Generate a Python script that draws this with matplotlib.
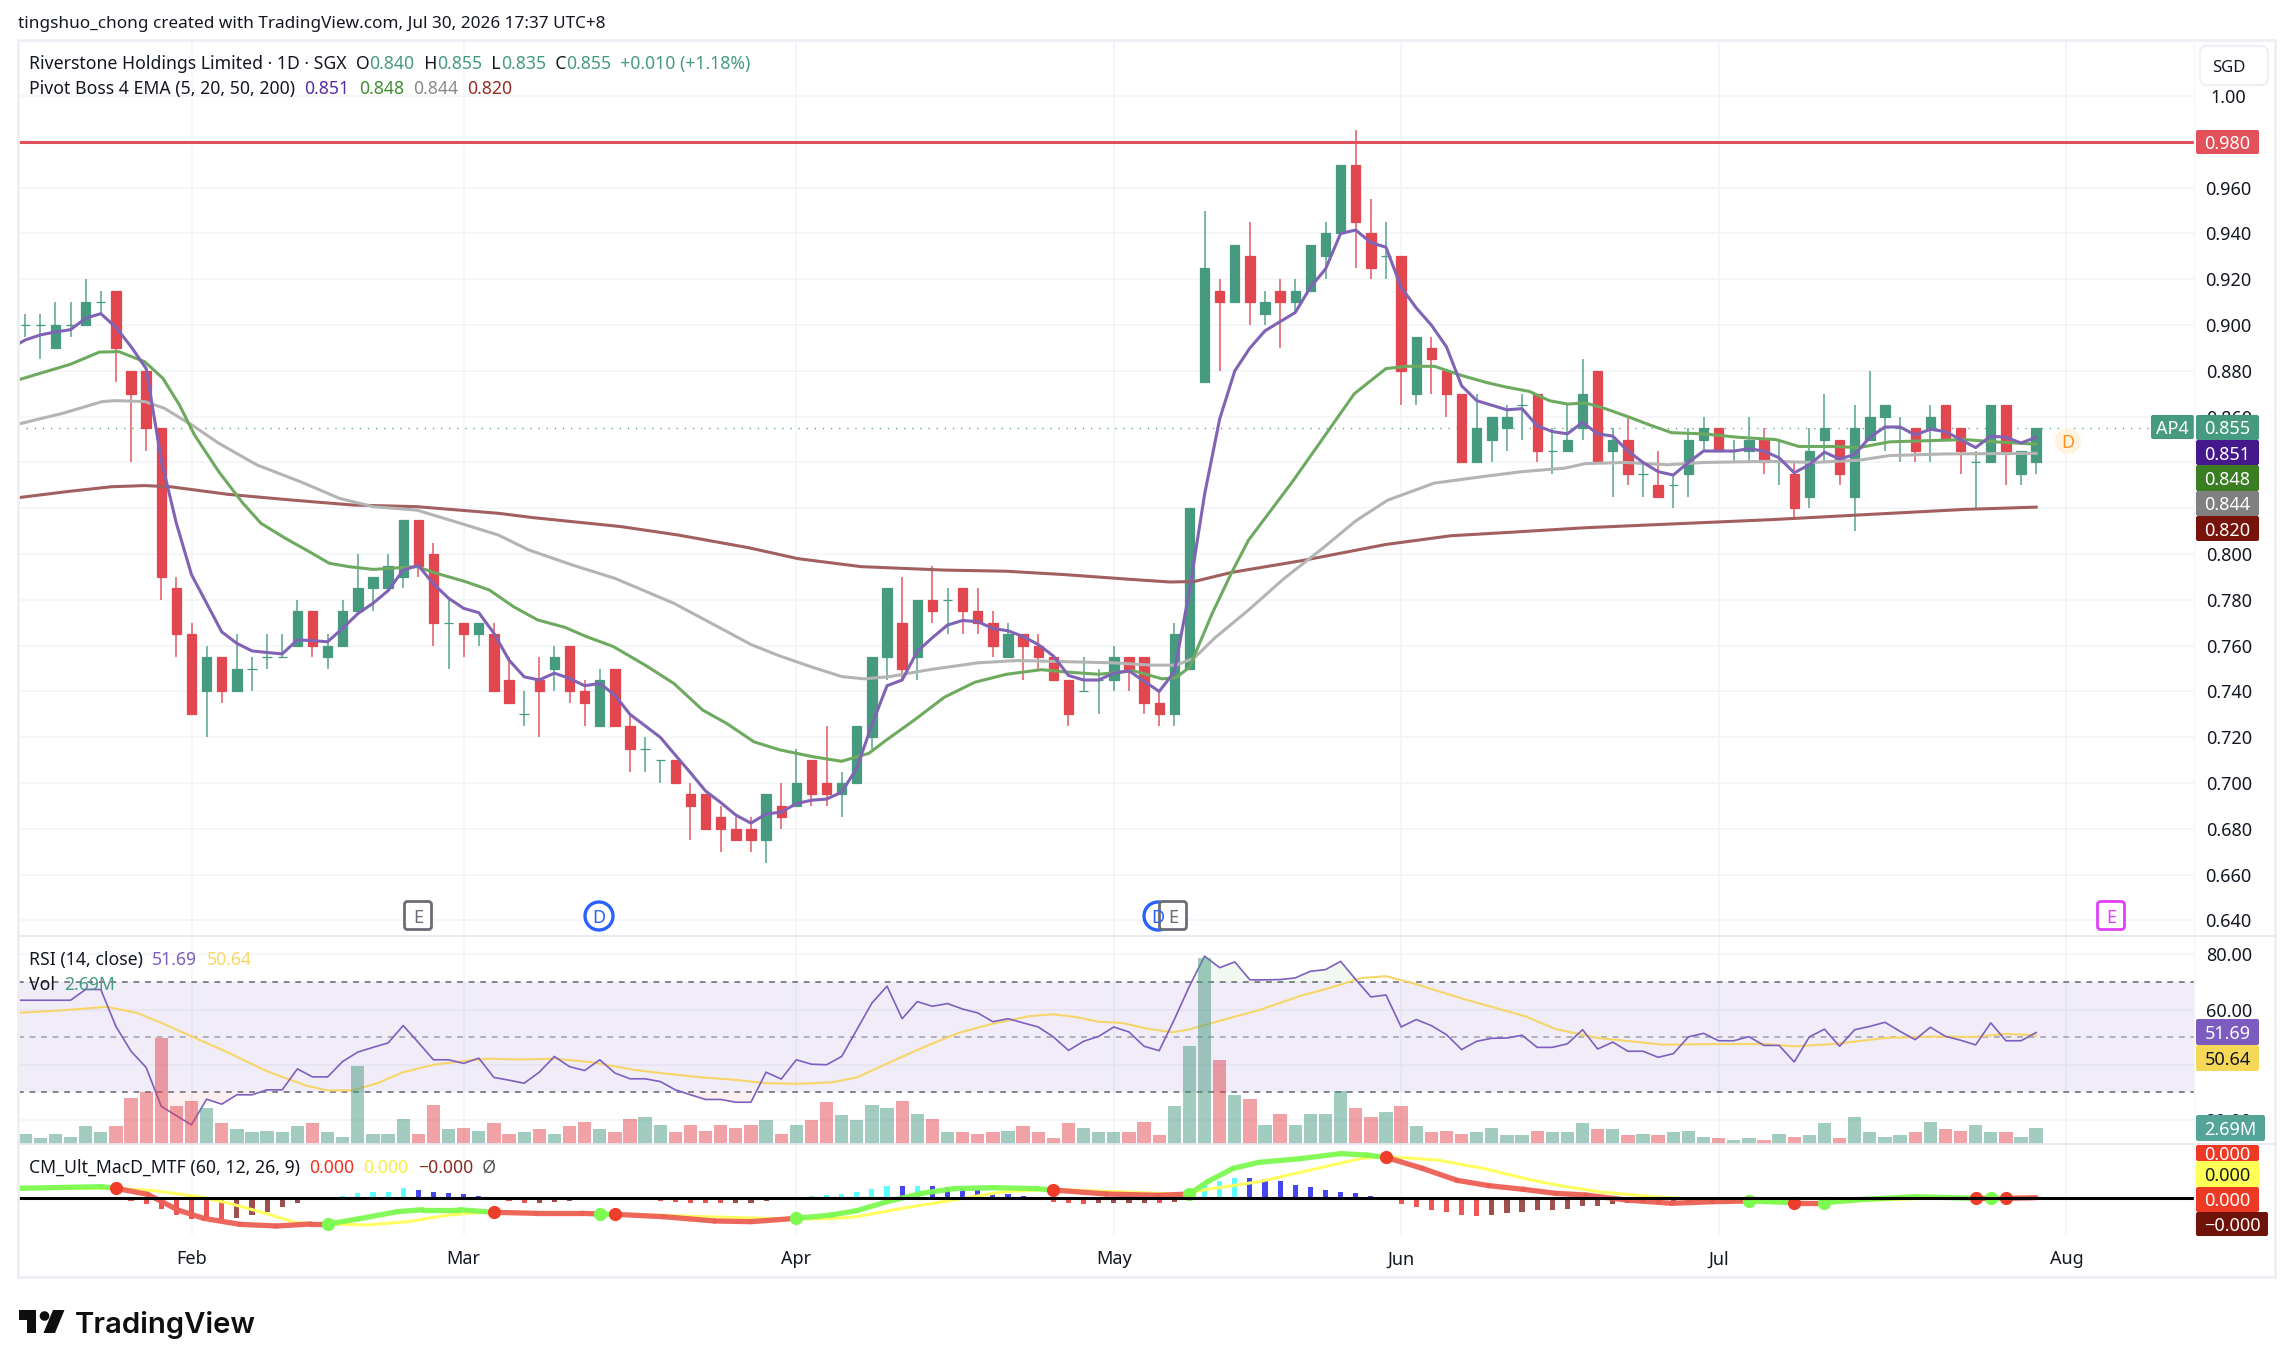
import numpy as np
import matplotlib
matplotlib.use("Agg")
import matplotlib.pyplot as plt
from matplotlib.patches import Rectangle, FancyBboxPatch, Circle, Polygon

# ---------- data ----------
OPEN = [.90,.90,.89,.90,.90,.91,.915,.88,.88,.855,.785,.765,.74,.755,.74,.75,.755,.755,.76,.775,
 .755,.76,.775,.785,.785,.79,.815,.80,.77,.77,.765,.765,.745,.73,.745,.75,.76,.74,.725,.75,
 .725,.715,.71,.71,.695,.695,.685,.68,.68,.675,.69,.69,.71,.70,.695,.70,.72,.755,.77,.755,
 .78,.78,.785,.775,.77,.755,.765,.76,.755,.745,.74,.745,.745,.755,.755,.735,.73,.75,.875,.915,
 .91,.93,.905,.915,.91,.915,.93,.94,.97,.94,.93,.93,.87,.89,.88,.87,.84,.85,.855,.865,
 .87,.845,.845,.855,.88,.845,.85,.835,.83,.83,.835,.85,.855,.845,.845,.85,.84,.835,.825,.85,
 .85,.825,.85,.86,.855,.855,.855,.865,.855,.84,.84,.865,.835,.84]
HIGH = [.905,.905,.91,.91,.92,.915,.915,.88,.88,.855,.79,.77,.76,.755,.765,.755,.765,.765,.78,.775,
 .765,.78,.80,.79,.80,.815,.815,.805,.78,.77,.77,.77,.755,.74,.755,.76,.76,.745,.75,.75,
 .73,.72,.71,.71,.70,.695,.69,.685,.685,.695,.70,.715,.71,.725,.705,.725,.755,.785,.79,.78,
 .795,.785,.785,.785,.775,.77,.765,.765,.755,.745,.755,.75,.76,.755,.755,.74,.77,.82,.95,.92,
 .935,.945,.915,.92,.92,.935,.945,.97,.985,.955,.945,.93,.895,.895,.88,.87,.87,.86,.865,.87,
 .87,.855,.865,.885,.88,.855,.86,.84,.845,.835,.855,.86,.855,.85,.86,.855,.85,.84,.855,.87,
 .85,.865,.88,.865,.86,.855,.865,.865,.855,.845,.865,.865,.845,.855]
LOW = [.895,.885,.89,.895,.90,.905,.875,.84,.845,.78,.755,.73,.72,.735,.74,.74,.75,.755,.76,.755,
 .75,.76,.775,.775,.785,.785,.79,.76,.75,.755,.76,.74,.735,.725,.72,.74,.735,.725,.725,.725,
 .705,.705,.70,.70,.675,.68,.67,.675,.67,.665,.68,.69,.69,.69,.685,.70,.715,.745,.745,.745,
 .77,.765,.765,.765,.755,.755,.745,.75,.745,.725,.74,.73,.74,.74,.73,.725,.725,.75,.875,.88,
 .91,.90,.90,.89,.905,.915,.92,.94,.925,.92,.92,.865,.865,.87,.86,.84,.84,.84,.845,.85,
 .84,.835,.845,.85,.84,.825,.83,.825,.825,.82,.825,.845,.845,.84,.84,.835,.83,.815,.82,.84,
 .83,.81,.85,.845,.84,.84,.84,.85,.835,.82,.84,.83,.83,.835]
CLOSE = [.90,.90,.90,.90,.91,.91,.89,.87,.855,.79,.765,.73,.755,.74,.75,.75,.755,.755,.775,.76,
 .76,.775,.785,.79,.795,.815,.795,.77,.77,.765,.77,.74,.735,.73,.74,.755,.74,.735,.745,.725,
 .715,.715,.71,.70,.69,.68,.68,.675,.675,.695,.685,.70,.695,.695,.70,.725,.755,.785,.75,.78,
 .775,.78,.775,.77,.76,.765,.76,.755,.745,.73,.74,.745,.755,.75,.735,.73,.765,.82,.925,.91,
 .935,.91,.91,.91,.915,.935,.94,.97,.945,.925,.93,.88,.895,.885,.87,.84,.855,.86,.86,.865,
 .845,.845,.85,.87,.84,.85,.835,.835,.825,.83,.85,.855,.845,.845,.85,.84,.84,.82,.845,.855,
 .835,.855,.86,.865,.855,.845,.86,.85,.845,.84,.865,.845,.845,.855]
VOLUME = [1.7,1.0,1.7,1.2,3.0,2.0,3.0,7.6,8.5,17.5,6.2,7.1,5.9,3.5,2.5,2.0,2.2,2.0,3.0,3.5,
 2.0,1.2,12.8,1.7,1.7,4.2,1.7,6.4,2.5,2.7,2.2,3.5,1.7,2.0,2.5,1.7,3.0,3.7,2.5,2.0,
 4.2,4.4,3.2,2.0,3.2,2.2,3.2,2.7,3.2,4.0,1.7,3.2,4.0,6.9,4.7,4.0,6.4,5.9,7.1,4.9,
 4.2,2.0,2.0,1.7,2.0,2.2,3.0,2.0,1.0,3.5,2.7,2.0,2.0,2.0,3.7,1.5,6.2,16.2,30.7,13.8,
 8.1,7.4,3.2,4.9,3.2,4.9,4.9,8.8,5.9,4.4,5.2,6.2,3.0,2.0,2.2,1.7,2.0,2.7,1.5,1.5,
 2.2,2.0,2.0,3.5,2.5,2.5,1.5,1.7,1.5,2.0,2.2,1.2,1.0,0.7,1.0,0.7,1.7,1.2,1.5,3.5,
 1.0,4.4,2.0,1.2,1.5,2.0,3.7,2.5,2.2,3.2,2.0,2.0,1.2,2.69]
EMA5 = [.8935,.8957,.897,.898,.903,.905,.899,.8906,.881,.841,.8134,.791,.7785,.766,.761,.7577,.757,.7564,.7625,.7622,
 .7617,.7676,.774,.7785,.784,.793,.795,.787,.7807,.7763,.7744,.7654,.7537,.7464,.745,.748,.7457,.7425,.7435,.7384,
 .73,.725,.72,.7122,.7045,.6965,.6915,.686,.6825,.6865,.6873,.691,.6925,.693,.696,.7065,.7255,.7425,.745,.7575,
 .7635,.769,.771,.7705,.7675,.7665,.764,.7605,.7555,.747,.745,.745,.748,.749,.7445,.74,.7485,.784,.826,.859,
 .88,.89,.8975,.9015,.9055,.9165,.9245,.94,.9415,.936,.934,.9165,.9075,.90,.8905,.8735,.867,.865,.863,.8635,
 .856,.8535,.8525,.8575,.8525,.8515,.845,.84,.836,.8345,.84,.845,.845,.845,.846,.845,.842,.8355,.839,.8445,
 .8415,.8435,.851,.8555,.8555,.852,.8545,.8535,.85,.8465,.8515,.851,.8485,.851]
EMA5_START = .8916
EMA20_X = [-.5,3,4.9,6.2,7.9,9.1,10.2,11.2,12.8,14.4,15.6,17.2,18.8,20.1,21.4,23,25.9,27.2,29.1,30.7,32.3,33.9,35.7,37.1,38.9,41,42.9,44.8,46.4,48.2,49.9,52.1,54,55.8,56.9,58.8,60.8,62.8,64.9,67.2,68.8,71,73.3,75.2,76.1,77,78.5,79.8,80.9,83.8,86.2,87.9,90,91.4,93.2,95,96.6,97.9,99.5,100.8,102,103.2,104.5,106,107.6,108.9,111,113.3,115.8,117.3,119.5,121.3,123.3,125.8,128.3,130.3,133]
EMA20_Y = [.876,.8829,.8882,.8884,.884,.8768,.8651,.852,.836,.8222,.8134,.8069,.801,.796,.7945,.7933,.7945,.7916,.788,.7843,.777,.7712,.768,.764,.7596,.7515,.7435,.7319,.726,.718,.7145,.7115,.7095,.713,.7185,.7275,.7375,.744,.7475,.7495,.7485,.7475,.749,.7455,.746,.7505,.774,.792,.806,.8315,.854,.87,.881,.882,.882,.878,.875,.873,.871,.867,.8655,.866,.8635,.86,.856,.853,.8525,.851,.85,.847,.847,.8465,.849,.8495,.85,.849,.848]
EMA50_X = [-.5,2.5,5.1,6,7.9,9.2,11.2,12.8,15.3,18.2,20.8,23,25.9,28.8,31.3,33.3,36.2,39,42.9,45.8,48,49.9,52.1,54,55.5,57.2,59.8,63,65.6,68.8,72,74.5,76.1,77.3,78.7,80.9,83.2,85.9,88,90.1,93.2,96.6,99,101.8,103.2,105.8,108.6,111,115.4,118.3,121.3,123.3,126.8,133]
EMA50_Y = [.8567,.8615,.8666,.867,.8666,.8637,.8556,.8484,.839,.8316,.8243,.8207,.8192,.8134,.8083,.8018,.7952,.7894,.7785,.7683,.7605,.7555,.7505,.7465,.7455,.7465,.7495,.7525,.7535,.753,.7525,.7515,.7515,.7545,.7635,.7755,.789,.803,.8145,.8235,.831,.834,.836,.8375,.8395,.84,.839,.84,.8405,.84,.841,.843,.8437,.844]
EMA200_X = [-.5,2.8,5.7,7.9,9.6,13.4,17.6,21.7,25.9,31.3,33.6,39.4,43.2,47.9,51.1,55.3,60.8,64.9,68.8,73,75.7,77.3,79.8,84.5,90,94.3,98.2,103.2,108.4,115.4,122.5,128.3,133]
EMA200_Y = [.8246,.8273,.8294,.8299,.8294,.8261,.8236,.8214,.8207,.8178,.8159,.812,.8083,.8027,.798,.7945,.793,.7925,.791,.789,.7878,.788,.792,.7972,.8042,.808,.8095,.8115,.813,.815,.8175,.8195,.8205]
RSI = [63.4,63.4,63.4,63.4,67.3,67.3,53.9,44.9,39.0,24.9,21.5,18.2,27.5,25.7,29.1,29.1,30.9,30.9,38.5,35.6,
 35.6,41.2,44.6,46.3,47.9,54.2,48.1,41.8,41.8,40.5,42.4,35.4,34.4,33.3,37.3,43.0,39.3,37.9,41.8,37.0,
 34.9,34.9,33.9,30.9,29.1,27.4,27.4,26.4,26.4,37.3,34.8,41.8,40.2,40.0,43.0,52.7,62.4,68.5,56.7,62.9,
 61.2,62.2,60.2,58.8,55.6,56.7,55.2,53.7,50.1,45.2,48.5,50.3,53.7,51.9,46.7,45.1,56.4,68.5,79.4,75.2,
 77.3,70.8,70.8,70.9,71.5,73.9,74.5,77.5,70.9,64.6,65.3,53.7,56.4,54.2,50.9,45.5,48.5,49.6,49.7,50.7,
 46.3,46.3,47.6,52.7,45.7,48.2,44.9,44.9,42.7,44.0,50.1,51.4,48.7,48.7,50.2,47.0,47.0,41.0,50.1,52.9,
 46.7,52.7,53.9,55.4,52.1,49.1,53.6,50.3,48.9,47.2,55.2,48.7,48.7,51.69]
RSI_MA_X = [-.5,2,3.5,5.4,7.4,9,11,13.5,16,18.6,20,21.6,23.3,25,27,29.4,30.7,32.7,35,37.5,40.2,42,44.6,47,49,51.2,53.3,55,57,59.3,61.7,64,66.4,68,69.5,71,72.5,74.2,75.9,76.9,78.9,81.6,84.3,86.3,88.4,90,91.7,95.1,99.2,101.2,104,106.2,108.3,111.9,115,117,119.6,123,126,129,131,133]
RSI_MA_Y = [58.8,59.6,60.2,61,58.8,55.2,50.3,44.2,37.6,32.4,30.7,30.7,33.3,37.3,40,41.6,42.2,41.9,42.2,40.9,38.2,37,35.5,34.5,33.3,33.1,33.6,35.4,40.4,46.1,51.5,54.9,57.6,58.3,57.3,55.6,55.2,53.1,51.8,52.7,55.8,59.8,64.9,67.9,71.5,72.1,69.7,63.9,57.6,53,49.7,48.5,47.3,47.5,47.5,46.7,47.5,49.7,50.2,50.1,51.2,50.64]
MACD_X = [-.5,5,6,8.1,10.1,11.8,14.2,16.6,18.9,20,22,24.6,26.3,28.7,31,33.8,36.8,38,39,42.2,45.6,48,51,53.3,55,57,59.3,61.4,64,66.9,68,71.5,74.9,77,78.2,79.9,81.6,84.3,87,88.7,90,92.4,94.7,96.8,99.1,101.2,103.2,105.9,108.9,111.6,114,117,119,121.6,125,129,130,131,133]
MACD_Y = [.006,.007,.006,.0024,-.007,-.012,-.0156,-.0166,-.0154,-.0154,-.0124,-.008,-.0068,-.0068,-.0084,-.009,-.009,-.0094,-.0096,-.011,-.0136,-.014,-.012,-.01,-.0074,-.002,.003,.0058,.0064,.0058,.005,.0026,.0018,.0026,.01,.018,.0216,.0238,.0268,.026,.0246,.018,.0108,.0076,.0054,.003,.002,-.001,-.003,-.002,-.0016,-.0026,-.0026,-.0006,.001,0,0,0,.0004]
SIGNAL_X = [-.5,6,8.5,11.5,13.5,15.9,17.9,20,22.6,25.3,28,31,35.5,38.8,42.2,45.6,49,51,53.3,55,58,61.4,64.7,68,72.2,76.3,78.2,81.6,85,88.4,90,93.4,96.4,99.7,101.9,104.2,107.6,110.9,114,117,119,121.6,125,129,133]
SIGNAL_Y = [.006,.006,.0046,.001,-.003,-.009,-.0146,-.0154,-.016,-.014,-.01,-.0078,-.009,-.0096,-.0102,-.0112,-.012,-.0124,-.0122,-.011,-.006,-.001,.004,.0054,.004,.0024,.0054,.01,.017,.024,.025,.023,.018,.0108,.007,.0038,.001,-.001,-.0022,-.0024,-.0026,-.0014,-.0002,.0006,.0006]
CROSS_X = [6,20,31,38,39,51,68,77,90,114,117,119,129,130,131]
CROSS_Y = [.006,-.0154,-.0084,-.0094,-.0096,-.012,.005,.0026,.0246,-.0016,-.0026,-.0026,0,0,0]
HIST = [0,0,0,0,0,0,0,-.0016,-.0036,-.0062,-.0098,-.0124,-.0124,-.0124,-.0116,-.0098,-.0082,-.0054,-.003,0,
 0,.0012,.003,.004,.004,.006,.005,.004,.0032,.0024,.0016,0,-.0016,-.0026,-.0026,-.002,-.0016,0,0,0,
 0,0,-.0016,-.002,-.0026,-.0026,-.0026,-.0026,-.0026,-.0016,0,0,.0012,.002,.0026,.004,.0058,.0076,.0076,.0076,
 .0076,.007,.006,.005,.0034,.0024,.0012,0,-.002,-.003,-.0036,-.0028,-.0028,-.0028,-.0028,-.0028,-.002,0,.008,.0104,
 .0124,.0124,.0114,.0106,.0078,.007,.005,.004,.0032,.0012,0,-.0036,-.0054,-.0072,-.0082,-.01,-.0108,-.01,-.009,-.0082,
 -.0072,-.0072,-.0064,-.0046,-.0046,-.0036,-.003,-.003,-.0036,-.0036,-.0026,-.0016,0,0,0,0,0,0,0,0,
 0,0,0,0,.0014,.0014,0,0,0,0,0,0,0,0]
HIST_CYAN = list(range(21,26))+list(range(52,58))+[59,78,79,80]
HIST_RED = list(range(7,14))+[32,33,42,43,44,45,46,68,69,70,75]+list(range(91,97))
PRICE_TICKS = [.64,.66,.68,.70,.72,.74,.76,.78,.80,.82,.84,.86,.88,.90,.92,.94,.96,.98,1.00]
PRICE_LABELS = ['0.640','0.660','0.680','0.700','0.720','0.740','0.760','0.780','0.800','','','0.860','0.880','0.900','0.920','0.940','0.960','','1.00']
RSI_TICKS = [20,40,60,80]
RSI_LABELS = ['20.00','','60.00','80.00']
MONTH_POS = [11,29,51,72,91,112,135]
MONTHS = ['Feb','Mar','Apr','May','Jun','Jul','Aug']
RESISTANCE = .98
LAST = .855

# ---------- styling ----------
W, H = 2294, 1366
FONT = 'Noto Sans'
plt.rcParams['font.family'] = [FONT, 'DejaVu Sans']
GREEN, RED = '#459A80', '#E2464F'
GRID = '#F2F4F9'
INK = '#131722'
LEFT, RIGHT = 18, 2194
XLIM = (-0.476, 143.44)

fig = plt.figure(figsize=(W/100, H/100), dpi=100, facecolor='white')
def pane(top, bottom):
    return fig.add_axes([LEFT/W, 1-bottom/H, (RIGHT-LEFT)/W, (bottom-top)/H])

days = np.arange(len(CLOSE))
open_, high, low, close = map(np.array, (OPEN, HIGH, LOW, CLOSE))
cols = [GREEN if c >= o else RED for o, c in zip(open_, close)]

# ---------- main pane ----------
ax = pane(40, 936)
ax.set_xlim(*XLIM); ax.set_ylim(.6332, 1.0245)
ax.vlines(days, low, high, colors=cols, lw=1.1, alpha=.9, zorder=3)
ax.bar(days, close-open_, bottom=open_, width=.62, color=cols, edgecolor=cols, lw=.9, zorder=3)
ax.plot(EMA200_X, EMA200_Y, color='#A25F5F', lw=2.2, zorder=4)
ax.plot(EMA50_X, EMA50_Y, color='#B4B4B4', lw=2.2, zorder=4)
ax.plot(EMA20_X, EMA20_Y, color='#6DAA60', lw=2.2, zorder=4)
ax.plot(np.r_[-.5, days], np.r_[EMA5_START, EMA5], color='#8163B5', lw=2.2, zorder=4)
ax.axhline(RESISTANCE, color='#E0505A', lw=2.2, zorder=5)
ax.plot([XLIM[0], (2151-LEFT)/15.12+XLIM[0]], [LAST, LAST], color=GREEN, lw=.9, ls=(0, (1, 5.5)), zorder=2)
ax.set_yticks(PRICE_TICKS, PRICE_LABELS)

# ---------- RSI + volume pane ----------
ar = pane(936, 1144)
ar.set_xlim(*XLIM); ar.set_ylim(11.25, 86.7)
ar.axhspan(30, 70, color='#7E57C2', alpha=.11, lw=0, zorder=1)
for lev, c in ((70, '#787B86'), (50, '#A8AAB3'), (30, '#787B86')):
    ar.axhline(lev, color=c, lw=1.3, ls=(0, (3.2, 3.2)), zorder=2)
rsi = np.array(RSI)
ar.fill_between(days, 70, rsi, where=rsi > 70, interpolate=True, color='#4CAF50', alpha=.08, lw=0, zorder=2)
ar.fill_between(days, 30, rsi, where=rsi < 30, interpolate=True, color='#F23645', alpha=.08, lw=0, zorder=2)
ar.plot(RSI_MA_X, RSI_MA_Y, color='#F6D668', lw=1.5, zorder=3)
ar.plot(np.r_[-.5, days], np.r_[RSI[0], RSI], color='#7E5FBF', lw=1.2, zorder=3)
ar.set_yticks(RSI_TICKS, RSI_LABELS)
av = ar.twinx()
av.set_xlim(*XLIM); av.set_ylim(0, 34.3)
av.patch.set_visible(False)
av.bar(days, VOLUME, width=.88, color=cols, alpha=.5, lw=0, zorder=3)
av.set_yticks([]); av.set_zorder(ar.get_zorder()+1)
for s in av.spines.values(): s.set_visible(False)

# ---------- MACD pane ----------
am = pane(1144, 1235)
am.set_xlim(*XLIM); am.set_ylim(-.022, .0326)
hc = []
for i, h in enumerate(HIST):
    if h >= 0:
        hc.append('#5CFFFF' if i in HIST_CYAN else '#4646F0')
    else:
        hc.append('#EE5555' if i in HIST_RED else '#A04F4F')
am.bar(days, HIST, width=.34, color=hc, lw=0, zorder=2)
am.plot(SIGNAL_X, SIGNAL_Y, color='#FFFF60', lw=2.2, zorder=3, solid_capstyle='round')
mx, my = np.array(MACD_X), np.array(MACD_Y)
for a, b in zip(range(len(mx)-1), range(1, len(mx))):
    n = sum(1 for c in CROSS_X if c <= (mx[a]+mx[b])/2)
    am.plot(mx[a:b+1], my[a:b+1], color='#7CFA50' if n % 2 == 0 else '#EC5F55', lw=3.8,
            alpha=.95, zorder=4, solid_capstyle='round')
for k, (cx, cy) in enumerate(zip(CROSS_X, CROSS_Y)):
    am.plot([cx], [cy], 'o', ms=9.5, mec='none', color='#EE3D2A' if k % 2 == 0 else '#7CFA50', zorder=5)
am.axhline(0, color='black', lw=2.2, zorder=6)

for a in (ax, ar, am):
    a.set_facecolor('white')
    a.set_xticks(MONTH_POS)
    a.grid(True, color=GRID, lw=1.1, zorder=0)
    a.set_axisbelow(True)
    for s in a.spines.values(): s.set_visible(False)
    a.yaxis.tick_right()
    a.tick_params(axis='y', length=0, pad=25, labelsize=13, labelcolor=INK)
    for t in a.get_yticklabels(): t.set_ha('center')
    a.tick_params(axis='x', length=0, labelbottom=False)
am.set_xticks(MONTH_POS, MONTHS)
am.tick_params(axis='y', labelright=False)
am.grid(False, axis='y')
am.tick_params(axis='x', labelbottom=True, pad=11, labelsize=13, labelcolor=INK)

# ---------- chrome overlay in pixel coordinates ----------
ov = fig.add_axes([0, 0, 1, 1], zorder=50)
ov.set_xlim(0, W); ov.set_ylim(H, 0); ov.axis('off')
ov.patch.set_visible(False)
ov.add_patch(Rectangle((18, 40), 2257, 1237, fill=False, ec='#EDEFF5', lw=2))
for y in (936, 1144):
    ov.plot([18, 2275], [y, y], color='#E6E8EF', lw=1.3)
ov.plot([2194, 2194], [40, 1235], color='#F4F5F9', lw=1)

def tag(x0, x1, y0, y1, txt, bg, fg='white'):
    ov.add_patch(FancyBboxPatch((x0+1, y0+1), x1-x0-2, y1-y0-2, boxstyle='round,pad=1,rounding_size=2',
                                fc=bg, ec='none'))
    ov.text((x0+x1)/2, (y0+y1)/2, txt, color=fg, ha='center', va='center_baseline', fontsize=13)

ov.add_patch(FancyBboxPatch((2202, 48), 64, 35, boxstyle='round,pad=2,rounding_size=7', fc='white', ec='#EEF0F5', lw=1.5))
ov.text(2229, 66, 'SGD', ha='center', va='center_baseline', fontsize=12, color=INK)
tag(2196, 2259, 130, 154, '0.980', '#E2505A')
tag(2151, 2194, 415, 439, 'AP4', GREEN)
tag(2196, 2259, 415, 440, '0.855', GREEN)
tag(2196, 2259, 440, 465, '0.851', '#45188B')
tag(2196, 2259, 465, 491, '0.848', '#3A7D22')
tag(2196, 2259, 491, 516, '0.844', '#808080')
tag(2196, 2259, 516, 541, '0.820', '#77130A')
tag(2196, 2259, 1019, 1045, '51.69', '#7C5CBF')
tag(2196, 2259, 1045, 1071, '50.64', '#F6D858', INK)
tag(2196, 2265, 1115, 1141, '2.69M', '#55A498')
tag(2196, 2259, 1145, 1161, '0.000', '#EE3A25')
tag(2196, 2259, 1161, 1187, '0.000', '#FFFF55', INK)
tag(2196, 2259, 1187, 1212, '0.000', '#EE3A25')
tag(2196, 2268, 1212, 1236, '\u22120.000', '#6E120A')

# event markers
def ebox(cx, c, fc='white'):
    ov.add_patch(FancyBboxPatch((cx-12, 903), 24, 25, boxstyle='round,pad=1.5,rounding_size=3', fc=fc, ec=c, lw=2))
    ov.text(cx, 916, 'E', color=c, ha='center', va='center_baseline', fontsize=13, fontweight='bold')
def dcirc(cx, cy, c, fc='white', ec=None, r=14):
    ov.add_patch(Circle((cx, cy), r, fc=fc, ec=ec or c, lw=2.4 if ec is None else 0))
    ov.text(cx, cy, 'D', color=c, ha='center', va='center_baseline', fontsize=13, fontweight='bold')
ebox(418, '#6A6D78')
dcirc(599, 916, '#2962FF')
dcirc(1158, 916, '#2962FF')
ebox(1173, '#6A6D78')
ebox(2111, '#E040FB')
dcirc(2068, 441, '#F7931E', fc='#FFF3E0', ec='none', r=13)

# texts
ov.text(18, 22, 'tingshuo_chong created with TradingView.com, Jul 30, 2026 17:37 UTC+8', fontsize=12.35, color=INK, va='center_baseline')
def legend(x, y, parts, fs=12.7):
    r = fig.canvas.get_renderer()
    for txt, col in parts:
        t = ov.text(x, y, txt, color=col, fontsize=fs, va='center_baseline')
        x = t.get_window_extent(r).x1
LG = '#459A80'
legend(29, 62, [('Riverstone Holdings Limited \u00b7 1D \u00b7 SGX  O', INK), ('0.840', LG), ('  H', INK), ('0.855', LG),
                ('  L', INK), ('0.835', LG), ('  C', INK), ('0.855', LG), ('  +0.010 (+1.18%)', LG)])
legend(29, 87, [('Pivot Boss 4 EMA (5, 20, 50, 200)  ', INK), ('0.851', '#5A2CA0'), ('  ', INK), ('0.848', '#3F8F2E'),
                ('  ', INK), ('0.844', '#8A8A8A'), ('  ', INK), ('0.820', '#9A2A22')])
legend(29, 958, [('RSI (14, close)  ', INK), ('51.69', '#7E5FBF'), ('  ', INK), ('50.64', '#F6D668')])
legend(29, 983, [('Vol  ', INK), ('2.69M', LG)])
legend(29, 1166, [('CM_Ult_MacD_MTF (60, 12, 26, 9)  ', INK), ('0.000', '#F03020'), ('  ', INK), ('0.000', '#F4F040'),
                  ('  ', INK), ('\u22120.000', '#8B2A20'), ('  \u00d8', '#555555')])

# logo
ov.add_patch(Polygon([(19, 1310), (36, 1310), (36, 1333), (27, 1333), (27, 1320), (19, 1320)], fc='#0F0F0F', ec='none'))
ov.add_patch(Circle((44.5, 1316), 4.8, fc='#0F0F0F', ec='none'))
ov.add_patch(Polygon([(53, 1310), (64.5, 1310), (55, 1333), (43.5, 1333)], fc='#0F0F0F', ec='none'))
ov.text(75, 1322, 'TradingView', fontsize=21.1, family='Inter', weight='semibold', color='#0F0F0F', va='center_baseline')

fig.savefig('out.png', dpi=100, facecolor='white')
